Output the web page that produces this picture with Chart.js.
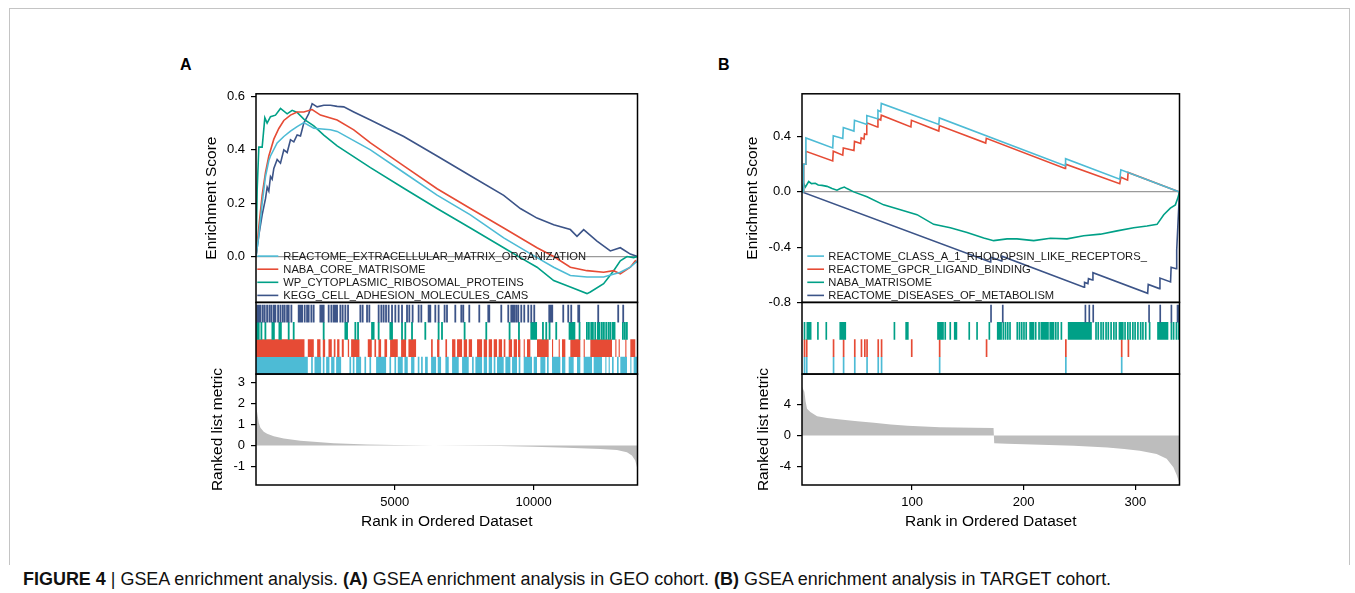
<!DOCTYPE html>
<html>
<head>
<meta charset="utf-8">
<script src="https://cdn.jsdelivr.net/npm/chart.js@4.4.1/dist/chart.umd.min.js"></script>
<style>
  body { margin: 0; width: 1355px; height: 593px; overflow: hidden; position: relative; background: #fff;
         font-family: "Liberation Sans", Arial, sans-serif; }
  #frame { position: absolute; left: 9px; top: 8px; width: 1339px; height: 556px;
           border: 1px solid #c4c4c4; border-bottom: none; }
  canvas { position: absolute; }
  .panel-label { position: absolute; font-weight: bold; font-size: 16px; line-height: 16px; color: #000; }
  #caption { position: absolute; left: 23px; top: 570px; font-size: 18px; line-height: 18px; white-space: nowrap;
             font-family: "Liberation Sans Narrow", "Arial Narrow", "Liberation Sans", Arial, sans-serif;
             transform-origin: 0 0; color: #111; }
</style>
</head>
<body>
<div id="frame"></div>
<div class="panel-label" style="left:180px;top:57px">A</div>
<div class="panel-label" style="left:718px;top:57px">B</div>
<canvas id="chartA" width="450" height="455" style="left:190px;top:80px"></canvas>
<canvas id="chartB" width="447" height="455" style="left:735px;top:80px"></canvas>
<div id="caption"><b>FIGURE 4</b> | GSEA enrichment analysis. <b>(A)</b> GSEA enrichment analysis in GEO cohort. <b>(B)</b> GSEA enrichment analysis in TARGET cohort.</div>

<script>
// ---- Panel A (GEO cohort) ----
const namesA = ['REACTOME_EXTRACELLULAR_MATRIX_ORGANIZATION', 'NABA_CORE_MATRISOME',
                'WP_CYTOPLASMIC_RIBOSOMAL_PROTEINS', 'KEGG_CELL_ADHESION_MOLECULES_CAMS'];
const rankTicksA = [5000, 10000];
const esTicksA = [0, 0.2, 0.4, 0.6];
const metricTicksA = [-1, 0, 1, 2, 3];

// running enrichment score, [rank, ES]
const esA_cyan = [[0,0],[102,0.08],[222,0.2],[342,0.3],[462,0.36],[522,0.377],[762,0.426],[1002,0.45],[1242,0.47],
  [1482,0.487],[1722,0.502],[2082,0.481],[2682,0.475],[2922,0.469],[4122,0.4],[5322,0.315],[6522,0.23],[7722,0.156],
  [8922,0.07],[10122,-0.004],[10722,-0.04],[11322,-0.071],[11922,-0.077],[12522,-0.077],[13122,-0.059],[13482,-0.04],[13741,-0.016]];
const esA_red = [[0,0],[102,0.11],[222,0.23],[342,0.315],[462,0.377],[642,0.44],[822,0.48],[1002,0.51],[1242,0.53],
  [1482,0.542],[1722,0.542],[2022,0.551],[2322,0.53],[2922,0.512],[3522,0.475],[4122,0.426],[5322,0.34],[6522,0.254],
  [7722,0.18],[8922,0.107],[10122,0.033],[10722,0],[11322,-0.04],[11922,-0.053],[12522,-0.059],[12882,-0.053],
  [13122,-0.065],[13482,-0.04],[13662,-0.016],[13741,-0.022]];
const esA_green = [[0,0],[42,0.25],[102,0.41],[222,0.41],[318,0.52],[400,0.5],[522,0.524],[702,0.53],[882,0.555],
  [1122,0.535],[1302,0.548],[1482,0.54],[1722,0.515],[2082,0.49],[2442,0.455],[2922,0.415],[4122,0.333],[5322,0.256],
  [6522,0.18],[7722,0.107],[8922,0.033],[9522,-0.004],[10122,-0.04],[10722,-0.09],[11322,-0.114],[11922,-0.139],
  [12042,-0.133],[12522,-0.102],[12882,-0.053],[13122,-0.016],[13362,0.0],[13602,-0.004],[13741,0]];
const esA_navy = [[0,0],[102,0.08],[222,0.156],[342,0.217],[402,0.26],[462,0.245],[522,0.3],[582,0.29],[642,0.33],
  [762,0.364],[882,0.35],[1002,0.4],[1122,0.39],[1242,0.438],[1362,0.43],[1482,0.456],[1602,0.452],[1722,0.5],
  [1902,0.536],[2022,0.573],[2202,0.561],[2442,0.567],[2682,0.567],[2922,0.563],[3162,0.561],[3522,0.542],[4122,0.512],
  [5322,0.45],[6522,0.377],[7722,0.303],[8922,0.229],[9522,0.18],[10122,0.144],[10722,0.119],[11322,0.101],
  [11562,0.076],[11802,0.101],[12282,0.058],[12762,0.021],[13122,0.033],[13482,0.009],[13741,0]];

// gene set members in the ranked list: single ranks or [from, to] runs
const hitsA_navy = [10,65,126,209,281,367,450,522,605,666,763,846,929,1001,1087,1145,1242,1505,1566,1627,1721,1807,
  1865,1962,2045,2286,2347,2405,2585,2682,2765,2826,2887,3006,3089,3186,3283,3726,3809,3967,4050,4385,4482,4565,4651,
  4745,4867,4986,5105,5227,5407,5490,5609,5825,5922,6185,6246,6426,6545,6761,6847,7146,7362,7434,7650,8010,8334,8370,
  8802,9054,9162,9216,9270,9342,9414,9522,9630,9774,9882,9990,10530,10584,10638,11034,11214,11322,11574,11610,12294,
  13014,13194];
const hitsA_green = [7,65,162,306,558,612,810,864,1145,1325,2405,3186,3247,3546,3643,4147,4205,4385,4806,4867,5227,
  5346,5587,6066,6545,6667,7481,8262,9101,9439,[9882,10123],10303,10422,10541,10782,[11261,11502],11621,11886,11958,
  12042,12102,12186,12282,12342,12426,12498,12582,12666,12738,12822,12882,13182,13254,13326];
const hitsA_red = [[0,1746],[1866,2082],[2202,2322],[2406,2490],[2610,2730],[2802,2862],[2922,3006],[3090,3162],
  [3306,3354],[3426,3726],[4026,4170],[4266,4326],[4410,4506],[4626,4722],[4830,5106],[5226,5406],[5490,5766],
  [6306,6366],[6522,6606],[6822,6882],[7062,7182],[7242,7422],[7482,7602],[7662,7782],[7962,8142],[8202,8322],
  [8382,8502],[8562,8682],[8742,8862],[8922,8982],[9102,9222],[9282,9402],[9438,9522],[9642,9682],[9762,9882],
  [10122,10542],[10662,10702],[10902,10942],[11022,11142],[11322,11682],[11802,11842],[12042,12822],[12942,12982],
  [13062,13102],[13302,13342],[13482,13662],[13722,13741]];
const hitsA_cyan = [[0,1866],[1986,2046],[2106,2346],[2406,2466],[2526,2646],[2706,2826],[2886,3066],[3366,3426],
  [3486,3546],[3606,3786],[3906,3966],[4086,4146],[4326,4686],[4806,4866],[4986,5046],[5106,5286],[5346,5466],
  [5586,5706],[5826,5886],[5946,6006],[6090,6186],[6306,6486],[6546,6666],[6822,6942],[7062,7302],[7422,7662],
  [7782,7842],[7902,8142],[8202,8322],[8382,8502],[8562,8622],[8682,8922],[8982,9162],[9222,9402],[9462,9522],
  [9642,9942],[10002,10122],[10242,10422],[10482,10542],[10662,10962],[11022,11142],[11262,11442],[11562,11682],
  [11802,12102],[12162,12462],[12582,12622],[12702,12742],[12822,12882],[13002,13062],[13122,13362],[13482,13522],
  [13602,13741]];

// ranked list metric, [rank, value]
const metricA = [[0,1.94],[40,1.6],[100,1.08],[160,0.84],[280,0.66],[400,0.56],[640,0.44],[1000,0.33],[1600,0.22],
  [2200,0.16],[2800,0.11],[4000,0.05],[4996,0.02],[6400,0],[7600,-0.02],[8800,-0.03],[10000,-0.06],[11200,-0.11],
  [12400,-0.17],[13000,-0.22],[13360,-0.33],[13540,-0.48],[13660,-0.72],[13720,-1.03],[13741,-1.19]];

// ---- Panel B (TARGET cohort) ----
const namesB = ['REACTOME_CLASS_A_1_RHODOPSIN_LIKE_RECEPTORS_', 'REACTOME_GPCR_LIGAND_BINDING',
                'NABA_MATRISOME', 'REACTOME_DISEASES_OF_METABOLISM'];
const rankTicksB = [100, 200, 300];
const esTicksB = [-0.8, -0.4, 0, 0.4];
const metricTicksB = [-4, 0, 4];

const esB_cyan = [[1.5,0],[2.5,0],[3,0.2],[4.5,0.2],[5,0.39],[29,0.318],[29.5,0.406],[38,0.386],[38.5,0.466],
  [48,0.44],[48.5,0.518],[59,0.49],[59.5,0.553],[69,0.53],[69.5,0.59],[72,0.58],[72.5,0.64],[124,0.488],[124.5,0.535],
  [237,0.19],[237.5,0.24],[286,0.092],[287,0.16],[339.5,0]];
const esB_red = [[1.5,0],[2.5,0],[3,0.2],[4.5,0.2],[5,0.294],[29,0.224],[29.5,0.294],[38,0.266],[38.5,0.318],
  [48,0.3],[48.5,0.365],[54,0.35],[54.5,0.39],[57,0.382],[57.5,0.42],[59,0.415],[59.5,0.5],[69,0.47],[69.5,0.53],
  [72,0.52],[72.5,0.555],[99,0.47],[99.5,0.518],[124,0.44],[124.5,0.48],[166,0.353],[166.5,0.388],[237,0.17],
  [237.5,0.2],[286,0.059],[287,0.106],[293,0.085],[293.5,0.141],[339.5,0]];
const esB_green = [[1.5,0],[3,0.06],[4.5,0.035],[7.5,0.075],[10,0.06],[13.4,0.062],[16,0.05],[19.4,0.047],
  [23.9,0.04],[28.4,0.024],[32.8,0.012],[35.8,0.024],[39.4,0.035],[41.8,0.024],[47.8,0],[59.7,-0.035],[74.6,-0.094],
  [89.6,-0.13],[104.5,-0.165],[119.4,-0.235],[134.3,-0.26],[149.3,-0.294],[164.2,-0.334],[173.1,-0.353],[185.1,-0.34],
  [194,-0.34],[209,-0.353],[223.9,-0.336],[238.8,-0.34],[253.7,-0.318],[268.7,-0.306],[283.6,-0.282],[298.5,-0.26],
  [310.4,-0.247],[319.4,-0.235],[325.4,-0.165],[331.3,-0.118],[335.8,-0.094],[337.9,-0.047],[339.5,0]];
const esB_navy = [[1.5,0],[170,-0.507],[170.5,-0.472],[180,-0.5],[180.5,-0.465],[254,-0.69],[254.5,-0.655],
  [257.5,-0.664],[258,-0.628],[261.5,-0.638],[262,-0.585],[311,-0.734],[311.5,-0.67],[321.5,-0.7],[322,-0.624],
  [331.5,-0.652],[332,-0.546],[336.5,-0.556],[337,-0.42],[338,-0.25],[339.5,0]];

const hitsB_navy = [170,180.5,254.5,258,261.5,311.5,321.5,331.5,[337,339.5]];
const hitsB_green = [3,5.5,7,8.5,15,22.5,35,36.5,38,39.5,83.5,94,95.5,122.5,124,125.5,127,129,133.5,137.5,139,150.5,
  157.5,168.5,176,177.5,179,181,183,185,187,193.5,195.5,197.5,199.5,201.5,205,206.5,208,210,213,215,216.5,218,219.5,
  221,223,224.5,226,228,230,233,[239.5,261],264,266,268.5,270.5,273,275,277.5,280,282,285,286.5,288,290,292.5,294.5,
  297,299,301.5,304,306,308.5,312,[319.5,329.5],331.5,333.5,336,[338,339.5]];
const hitsB_red = [3,5,29,38,48,54,57,59,69,72,99,124,166,237,287,293];
const hitsB_cyan = [3,5,29,38,48,59,69,72,124,237,287];

const metricB = [[1.5,6.34],[3.6,5.7],[4.8,4.4],[6,3.5],[9,3.06],[15,2.5],[24,2.3],[36,2.1],[51,1.87],[66,1.66],
  [81,1.45],[96,1.28],[125,1.1],[155,1.02],[173,0.98],[173.6,-0.98],[185,-1.06],[215,-1.19],[245,-1.32],[275,-1.53],
  [290,-1.74],[304,-1.96],[319,-2.38],[328,-3.0],[334,-4.1],[337,-5.1],[339.5,-6.2]];

// ---- drawing ----
const COLORS = { cyan: '#4DBBD5', red: '#E64B35', green: '#00A087', navy: '#3C5488' };
Chart.defaults.font.family = '"Liberation Sans", Arial, sans-serif';
Chart.defaults.color = '#000';

const toXY = arr => arr.map(p => ({ x: p[0], y: p[1] }));

// each hit becomes a short horizontal stroke in its row; null breaks the line
function hitPoints(hits, row, w) {
  const pts = [];
  hits.forEach(h => {
    const s = Array.isArray(h) ? h[0] : h;
    const e = Array.isArray(h) ? h[1] : h + w;
    pts.push({ x: s, y: row }, { x: e, y: row }, { x: e, y: null });
  });
  return pts;
}

// legend inside the ES box + black frames around the three boxes
const panelDecor = {
  id: 'panelDecor',
  afterDatasetsDraw(chart, args, opts) {
    const { ctx, chartArea } = chart;
    const es = chart.scales.yES;
    const items = chart.data.datasets.filter(d => d.yAxisID === 'yES' && d.label);
    ctx.save();
    ctx.font = '11.2px "Liberation Sans", Arial, sans-serif';
    ctx.textBaseline = 'middle';
    items.forEach((d, i) => {
      const y = es.bottom - 7 - (items.length - 1 - i) * 13.1;
      ctx.strokeStyle = d.borderColor;
      ctx.lineWidth = 1.6;
      ctx.beginPath();
      ctx.moveTo(chartArea.left + opts.lineFrom, y);
      ctx.lineTo(chartArea.left + opts.lineTo, y);
      ctx.stroke();
      ctx.fillStyle = '#1a1a1a';
      ctx.fillText(d.label, chartArea.left + opts.textAt, y + 0.5);
    });
    ctx.strokeStyle = '#000';
    ctx.lineWidth = 1.5;
    ['yES', 'yHit', 'yMet'].forEach(id => {
      const s = chart.scales[id];
      ctx.strokeRect(chartArea.left, s.top, chartArea.right - chartArea.left, s.bottom - s.top);
    });
    ctx.restore();
  }
};

function yScale(opts) {
  return Object.assign({
    type: 'linear', position: 'left', stack: 'panel',
    afterFit: s => { s.width = opts.axisWidth; },
    border: { display: false }
  }, opts.extra);
}

function makePanel(canvasId, p) {
  const esSets = [
    [p.names[0], p.es[0], COLORS.cyan],
    [p.names[1], p.es[1], COLORS.red],
    [p.names[2], p.es[2], COLORS.green],
    [p.names[3], p.es[3], COLORS.navy]
  ].map(([label, d, color]) => ({
    label, data: toXY(d), yAxisID: 'yES', borderColor: color, borderWidth: 1.6,
    pointRadius: 0, tension: 0, fill: false
  }));
  const rows = [[p.hits[3], 3.5, COLORS.navy], [p.hits[2], 2.5, COLORS.green],
                [p.hits[1], 1.5, COLORS.red], [p.hits[0], 0.5, COLORS.cyan]];
  const hitSets = rows.map(([h, row, color]) => ({
    data: hitPoints(h, row, p.hitWidth), yAxisID: 'yHit', borderColor: color,
    borderWidth: 17.6, borderCapStyle: 'butt', pointRadius: 0, spanGaps: false, fill: false
  }));
  const metricSet = {
    data: toXY(p.metric), yAxisID: 'yMet', borderWidth: 0, borderColor: 'rgba(0,0,0,0)',
    backgroundColor: '#bdbdbd', fill: 'origin', pointRadius: 0, tension: 0
  };
  const tickFont = { size: 13 };
  const titleFont = { size: 15.5 };
  return new Chart(document.getElementById(canvasId), {
    type: 'line',
    data: { datasets: [...esSets, ...hitSets, metricSet] },
    options: {
      responsive: false, animation: false, events: [],
      layout: { padding: { left: 0, right: 2.5, top: 6.5, bottom: 0 } },
      plugins: { legend: { display: false }, tooltip: { enabled: false },
                 panelDecor: p.legend },
      scales: {
        x: {
          type: 'linear', min: p.xMin, max: p.xMax,
          afterFit: s => { s.height = 50; },
          afterBuildTicks: s => { s.ticks = p.rankTicks.map(v => ({ value: v })); },
          ticks: { callback: v => String(v), font: tickFont, padding: 5, maxRotation: 0, autoSkip: false },
          grid: { drawOnChartArea: false, tickLength: 5, color: '#000', lineWidth: 1.2 },
          border: { display: false },
          title: { display: true, text: 'Rank in Ordered Dataset', font: titleFont, padding: { top: 0, bottom: 4 } }
        },
        yES: yScale({ axisWidth: p.axisWidth, extra: {
          stackWeight: 212.5, weight: 3, min: p.esMin, max: p.esMax,
          afterBuildTicks: s => { s.ticks = p.esTicks.map(v => ({ value: v })); },
          ticks: { callback: v => v.toFixed(1), font: tickFont, padding: 6, autoSkip: false },
          grid: { color: c => (c.tick && Math.abs(c.tick.value) < 1e-9) ? '#9a9a9a' : 'rgba(0,0,0,0)',
                  tickColor: '#000', tickLength: 5, lineWidth: 1.2 },
          title: { display: true, text: 'Enrichment Score', font: titleFont, padding: { top: p.esTitlePad } }
        }}),
        yHit: yScale({ axisWidth: p.axisWidth, extra: {
          stackWeight: 73, weight: 2, min: 0, max: 4.15,
          ticks: { display: false }, grid: { display: false }
        }}),
        yMet: yScale({ axisWidth: p.axisWidth, extra: {
          stackWeight: 113, weight: 1, min: p.metMin, max: p.metMax,
          afterBuildTicks: s => { s.ticks = p.metricTicks.map(v => ({ value: v })); },
          ticks: { callback: v => String(v), font: tickFont, padding: 6, autoSkip: false },
          grid: { drawOnChartArea: false, color: '#000', tickLength: 5, lineWidth: 1.2 },
          title: { display: true, text: 'Ranked list metric', font: titleFont, padding: { top: p.metTitlePad } }
        }})
      }
    },
    plugins: [panelDecor]
  });
}

makePanel('chartA', {
  names: namesA, es: [esA_cyan, esA_red, esA_green, esA_navy],
  hits: [hitsA_cyan, hitsA_red, hitsA_green, hitsA_navy], metric: metricA,
  rankTicks: rankTicksA, esTicks: esTicksA, metricTicks: metricTicksA,
  xMin: 0, xMax: 13741, esMin: -0.172, esMax: 0.61, metMin: -1.89, metMax: 3.41,
  axisWidth: 66, hitWidth: 65, esTitlePad: 12.7, metTitlePad: 18.7,
  legend: { lineFrom: 1.3, lineTo: 22.3, textAt: 27.3 }
});
makePanel('chartB', {
  names: namesB, es: [esB_cyan, esB_red, esB_green, esB_navy],
  hits: [hitsB_cyan, hitsB_red, hitsB_green, hitsB_navy], metric: metricB,
  rankTicks: rankTicksB, esTicks: esTicksB, metricTicks: metricTicksB,
  xMin: 1.5, xMax: 339.5, esMin: -0.8, esMax: 0.71, metMin: -6.41, metMax: 7.99,
  axisWidth: 67, hitWidth: 1.5, esTitlePad: 8.7, metTitlePad: 19.7,
  legend: { lineFrom: 5.3, lineTo: 22, textAt: 26.3 }
});

// fit the caption to the width it has in the figure
const cap = document.getElementById('caption');
cap.style.transform = 'scaleX(' + (1088 / cap.offsetWidth) + ')';
</script>
</body>
</html>
